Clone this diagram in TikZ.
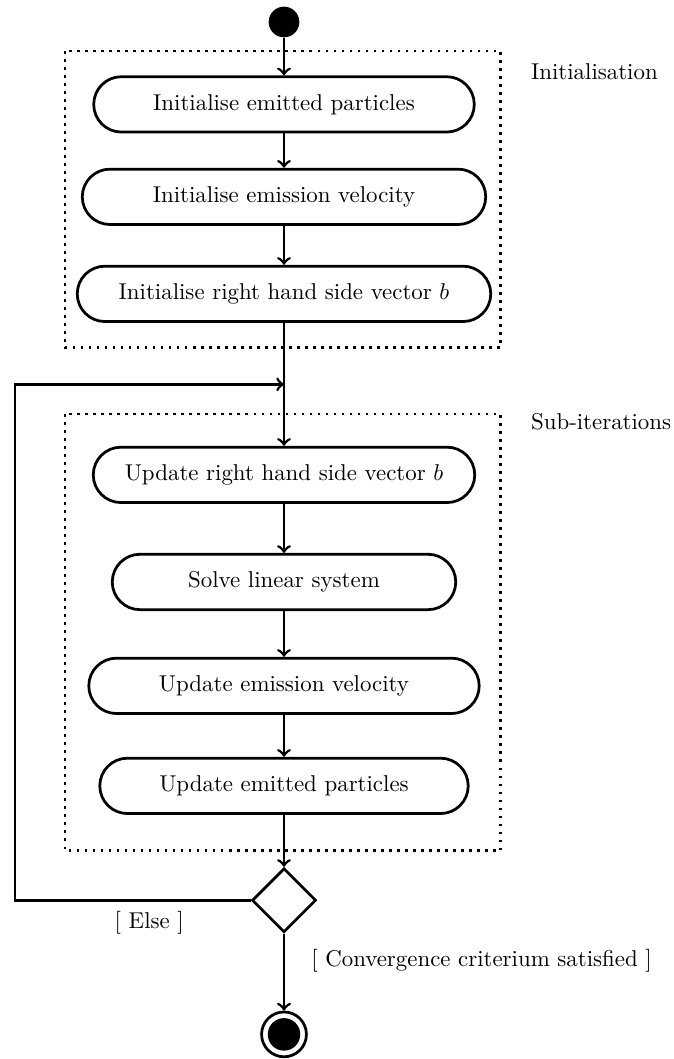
\documentclass[tikz,border=0pt]{standalone}
\usepackage{amsmath}
\usetikzlibrary{positioning,shapes.geometric,arrows}

\begin{document}
\begin{tikzpicture}[x=0.437pt,y=-0.437pt,
    every node/.style={on grid,node distance=45pt},
    action/.style={draw,very thick,rectangle,rounded corners=12.1pt,minimum height=24.2pt,inner sep=0pt},
    flow/.style={->,very thick},
    region/.style={line width=1.1pt,dash pattern=on 1.1pt off 2.4pt}]
    \useasboundingbox (0,0) rectangle (673,1059);
    % initial node and set-up actions
    \node[circle,fill,minimum size=13.4pt,inner sep=0pt] (start) at (284,22) {};
    \node[action,minimum width=166.3pt,below of=start,node distance=36pt] (initPart) {Initialise emitted particles};
    \node[action,minimum width=176.3pt,below of=initPart,node distance=40.4pt] (initVel) {Initialise emission velocity};
    \node[action,minimum width=180.7pt,below of=initVel,node distance=42.4pt] (initRhs) {Initialise right hand side vector $b$};
    % sub-iteration actions
    \node[action,minimum width=166.7pt,below of=initRhs,node distance=79.1pt] (updRhs) {Update right hand side vector $b$};
    \node[action,minimum width=150.1pt,below of=updRhs,node distance=46.8pt] (solve) {Solve linear system};
    \node[action,minimum width=170.6pt,below of=solve,node distance=45.4pt] (updVel) {Update emission velocity};
    \node[action,minimum width=161pt,below of=updVel,node distance=43.7pt] (updPart) {Update emitted particles};
    \node[diamond,draw,very thick,aspect=1,minimum size=28pt,inner sep=0pt,below of=updPart,node distance=50pt] (dec) {};
    \node[circle,draw,very thick,minimum size=19.6pt,inner sep=0pt,below of=dec,node distance=58.6pt,
      path picture={\fill (path picture bounding box.center) circle (7.1pt);}] (finish) {};
    % regions
    \draw[region] (65,51) rectangle (500.7,347.5);
    \draw[region] (65,414) rectangle (500.7,850.7);
    \node[anchor=west] (initLabel) at (523,71.7) {Initialisation};
    \node[anchor=west] (subLabel) at (523,421.7) {Sub-iterations};
    % flow
    \path (initRhs) -- coordinate[midway] (merge) (updRhs);
    \coordinate (loopx) at (15,0);
    \draw[flow] (start) -- (initPart);
    \draw[flow] (initPart) -- (initVel);
    \draw[flow] (initVel) -- (initRhs);
    \draw[flow] (initRhs) -- (updRhs);
    \draw[flow] (updRhs) -- (solve);
    \draw[flow] (solve) -- (updVel);
    \draw[flow] (updVel) -- (updPart);
    \draw[flow] (updPart) -- (dec);
    \draw[flow] (dec.west) -- node[anchor=north,pos=0.43,yshift=-1pt] {[ Else ]} (dec.west -| loopx) |- (merge);
    \draw[flow] (dec) -- node[anchor=west,pos=0.35,xshift=8pt] {[ Convergence criterium satisfied ]} (finish);
\end{tikzpicture}
\end{document}
